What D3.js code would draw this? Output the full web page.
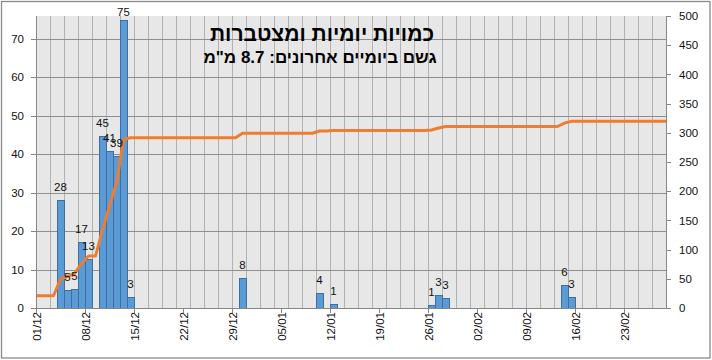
<!DOCTYPE html>
<html>
<head>
<meta charset="utf-8">
<script src="https://cdn.jsdelivr.net/npm/d3@7"></script>
<style>
  html, body { margin: 0; padding: 0; background: #fff; }
  svg { display: block; font-family: "Liberation Sans", Arial, sans-serif; }
</style>
</head>
<body>
<svg id="chart" width="712" height="360"></svg>
<script>
// ---- data ----
const titleText = "כמויות יומיות ומצטברות";
const subtitleText = "גשם ביומיים אחרונים: 8.7 מ\"מ";
const rainDates = ["2024-12-04","2024-12-05","2024-12-06","2024-12-07","2024-12-08",
  "2024-12-10","2024-12-11","2024-12-12","2024-12-13","2024-12-14",
  "2024-12-30","2025-01-10","2025-01-12","2025-01-26","2025-01-27","2025-01-28",
  "2025-02-14","2025-02-15"];
const rainValues = [28.2, 4.8, 5.0, 17.2, 12.8, 44.6, 40.8, 39.4, 74.8, 2.9,
  7.8, 3.8, 1.0, 0.7, 3.3, 2.7, 5.9, 2.9];
const initialCumulative = 21;
const periodStart = "2024-12-01";
const periodEnd = "2025-03-01";
const leftTicks = [0, 10, 20, 30, 40, 50, 60, 70];
const rightTicks = [0, 50, 100, 150, 200, 250, 300, 350, 400, 450, 500];
const leftMax = 75.9;
const rightMax = 500;

// ---- layout ----
const svg = d3.select("#chart");
const W = 712, H = 360;
const plot = { left: 36, right: 666, top: 16, bottom: 308 };
const parse = d3.utcParse("%Y-%m-%d");
const fmtDate = d3.utcFormat("%d/%m");
const t0 = parse(periodStart), t1 = parse(periodEnd);

const x = d3.scaleUtc().domain([t0, t1]).range([plot.left, plot.right]);
const yL = d3.scaleLinear().domain([0, leftMax]).range([plot.bottom, plot.top]);
const yR = d3.scaleLinear().domain([0, rightMax]).range([plot.bottom, plot.top]);

const rain = rainDates.map((d, i) => ({ date: parse(d), value: rainValues[i] }));
const rainMap = new Map(rain.map(r => [+r.date, r.value]));

// daily cumulative series
const days = d3.utcDay.range(t0, t1);
let acc = initialCumulative;
const cum = days.map(d => {
  acc += rainMap.get(+d) || 0;
  return { date: d, mid: d3.utcHour.offset(d, 12), value: acc };
});
const linePts = [{ mid: t0, value: initialCumulative }, ...cum, { mid: t1, value: acc }];

// outer border
svg.append("rect")
  .attr("x", 1.5).attr("y", 1.5).attr("width", W - 3.5).attr("height", H - 3.5)
  .attr("fill", "#fff").attr("stroke", "#8a8a8a").attr("stroke-width", 1.3);

// plot background
svg.append("rect")
  .attr("x", plot.left).attr("y", plot.top)
  .attr("width", plot.right - plot.left).attr("height", plot.bottom - plot.top)
  .attr("fill", "#e7e7e7");

// vertical gridlines every 2 days
const vGrid = d3.utcDay.range(t0, d3.utcDay.offset(t1, 1), 1).filter((d, i) => i % 2 === 0 && i > 0);
svg.append("g").selectAll("line").data(vGrid).join("line")
  .attr("x1", d => Math.round(x(d)) + 0.5).attr("x2", d => Math.round(x(d)) + 0.5)
  .attr("y1", plot.top).attr("y2", plot.bottom)
  .attr("stroke", "#b2b2b2").attr("stroke-width", 1);

// horizontal gridlines from left axis
svg.append("g").selectAll("line").data(leftTicks.filter(v => v > 0)).join("line")
  .attr("x1", plot.left - 5).attr("x2", plot.right)
  .attr("y1", d => Math.round(yL(d)) + 0.5).attr("y2", d => Math.round(yL(d)) + 0.5)
  .attr("stroke", "#8e8e8e").attr("stroke-width", 1);

// bars
svg.append("g").selectAll("rect").data(rain).join("rect")
  .attr("x", d => Math.round(x(d.date)) + 0.5)
  .attr("width", d => Math.round(x(d3.utcDay.offset(d.date, 1))) - Math.round(x(d.date)))
  .attr("y", d => Math.round(yL(d.value)) + 0.5)
  .attr("height", d => Math.round(plot.bottom) - Math.round(yL(d.value)))
  .attr("fill", "#5b9bd5").attr("stroke", "#3f6f9f").attr("stroke-width", 1);

// cumulative line
const clipId = "plotclip";
svg.append("clipPath").attr("id", clipId).append("rect")
  .attr("x", plot.left).attr("y", plot.top - 2)
  .attr("width", plot.right - plot.left).attr("height", plot.bottom - plot.top + 4);
svg.append("path")
  .datum(linePts)
  .attr("clip-path", `url(#${clipId})`)
  .attr("fill", "none").attr("stroke", "#ed7d31").attr("stroke-width", 3)
  .attr("stroke-linejoin", "round")
  .attr("d", d3.line().x(d => x(d.mid)).y(d => yR(d.value)));

// axes lines
const axisColor = "#868686";
const textColor = "#111";
svg.append("line").attr("x1", plot.left + 0.5).attr("x2", plot.left + 0.5)
  .attr("y1", plot.top).attr("y2", plot.bottom + 0.5).attr("stroke", axisColor);
svg.append("line").attr("x1", plot.right + 0.5).attr("x2", plot.right + 0.5)
  .attr("y1", plot.top).attr("y2", plot.bottom + 0.5).attr("stroke", axisColor);
svg.append("line").attr("x1", plot.left).attr("x2", plot.right + 1)
  .attr("y1", plot.bottom + 0.5).attr("y2", plot.bottom + 0.5).attr("stroke", axisColor);

// left axis ticks + labels
const gl = svg.append("g");
gl.selectAll("line").data(leftTicks).join("line")
  .attr("x1", plot.left - 5).attr("x2", plot.left)
  .attr("y1", d => Math.round(yL(d)) + 0.5).attr("y2", d => Math.round(yL(d)) + 0.5)
  .attr("stroke", axisColor);
gl.selectAll("text").data(leftTicks).join("text")
  .attr("x", plot.left - 12).attr("y", d => yL(d)).attr("dy", "0.36em")
  .attr("text-anchor", "end").attr("font-size", "11.5px").attr("fill", textColor)
  .text(d => d);

// right axis ticks + labels
const gr = svg.append("g");
gr.selectAll("line").data(rightTicks).join("line")
  .attr("x1", plot.right).attr("x2", plot.right + 5)
  .attr("y1", d => Math.round(yR(d)) + 0.5).attr("y2", d => Math.round(yR(d)) + 0.5)
  .attr("stroke", axisColor);
gr.selectAll("text").data(rightTicks).join("text")
  .attr("x", plot.right + 13).attr("y", d => yR(d)).attr("dy", "0.36em")
  .attr("text-anchor", "start").attr("font-size", "11.5px").attr("fill", textColor)
  .text(d => d);

// x axis ticks (weekly) + rotated labels
const xTicks = d3.utcDay.range(t0, t1, 7);
const gx = svg.append("g");
gx.selectAll("line").data(xTicks).join("line")
  .attr("x1", d => Math.round(x(d)) + 0.5).attr("x2", d => Math.round(x(d)) + 0.5)
  .attr("y1", plot.bottom).attr("y2", plot.bottom + 5)
  .attr("stroke", axisColor);
gx.selectAll("text").data(xTicks).join("text")
  .attr("transform", d => `translate(${Math.round(x(d)) + 0.5},${plot.bottom + 4}) rotate(-90)`)
  .attr("dy", "0.36em").attr("text-anchor", "end")
  .attr("font-size", "11.5px").attr("fill", textColor)
  .text(d => fmtDate(d));

// data labels
const fmtVal = d3.format(".0f");
svg.append("g").selectAll("text").data(rain).join("text")
  .attr("x", d => x(d3.utcHour.offset(d.date, 12)))
  .attr("y", d => Math.max(yL(d.value) - 9, plot.top))
  .attr("text-anchor", "middle").attr("font-size", "11.5px").attr("fill", textColor)
  .text(d => fmtVal(d.value));

// titles
svg.append("text")
  .attr("x", 322).attr("y", 41).attr("text-anchor", "middle")
  .attr("direction", "rtl")
  .attr("font-size", "21px").attr("font-weight", "bold").attr("fill", "#000")
  .text(titleText);
svg.append("text")
  .attr("x", 320).attr("y", 63).attr("text-anchor", "middle")
  .attr("direction", "rtl")
  .attr("font-size", "17px").attr("font-weight", "bold").attr("fill", "#000")
  .text(subtitleText);
</script>
</body>
</html>
